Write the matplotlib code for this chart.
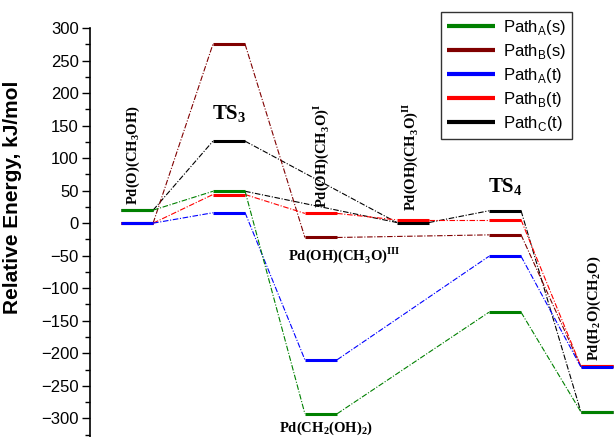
import matplotlib.pyplot as plt

plt.rcParams['mathtext.fontset'] = 'custom'
plt.rcParams['mathtext.rm'] = 'Liberation Sans'
plt.rcParams['mathtext.bf'] = 'Liberation Serif:bold'

# energies (kJ/mol) per state column; None = path has no level there
# columns: Pd(O)(CH3OH), TS3, I/III/Pd(CH2(OH)2), II, TS4, Pd(H2O)(CH2O)
path_A_s = [20, 49, -293, None, -137, -290]
path_B_s = [0, 275, -22, None, -18, -220]
path_A_t = [0, 16, -210, None, -51, -221]
path_B_t = [0, 44, 15, 5, 5, -220]
path_C_t = [20, 126, None, 1, 19, -290]

# extra connector seen in the figure (from col, energy, to col, energy)
extra_black = (1, 49, 3, 1)

paths = [
    ('Path$_\\mathrm{C}$(t)', path_C_t, 'black'),
    ('Path$_\\mathrm{B}$(s)', path_B_s, '#800000'),
    ('Path$_\\mathrm{B}$(t)', path_B_t, '#ff0000'),
    ('Path$_\\mathrm{A}$(t)', path_A_t, '#0000ff'),
    ('Path$_\\mathrm{A}$(s)', path_A_s, '#008000'),
]
legend_order = [1 - 1, 1, 2, 3, 4]
legend_names = ['Path$_\\mathrm{A}$(s)', 'Path$_\\mathrm{B}$(s)', 'Path$_\\mathrm{A}$(t)',
                'Path$_\\mathrm{B}$(t)', 'Path$_\\mathrm{C}$(t)']

hw = 0.175
dash = (0, (5, 1.5, 1, 1.5))

fig = plt.figure(figsize=(6.15, 4.37), dpi=100)
ax = fig.add_axes([90 / 615, 0, 525 / 615, 409 / 437])

handles = {}
for name, vals, col in paths:
    pts = [(i, v) for i, v in enumerate(vals) if v is not None]
    for (i0, v0), (i1, v1) in zip(pts[:-1], pts[1:]):
        ax.plot([i0 + hw, i1 - hw], [v0, v1], color=col, lw=0.8, ls=dash)
    for i, v in pts:
        h, = ax.plot([i - hw, i + hw], [v, v], color=col, lw=2.2, solid_capstyle='butt')
    handles[name] = h
    if col == 'black':
        i0, v0, i1, v1 = extra_black
        ax.plot([i0 + hw, i1 - hw], [v0, v1], color=col, lw=0.8, ls=dash)

ax.set_xlim(-0.511, 5.196)
ax.set_ylim(-328.7, 300)
ax.set_yticks(range(-300, 301, 50))
ax.set_yticks(range(-325, 300, 25), minor=True)
ax.tick_params(axis='y', which='major', length=6, width=1, labelsize=12, pad=2)
ax.tick_params(axis='y', which='minor', length=3.5, width=1)
for lab in ax.get_yticklabels():
    lab.set_family('Liberation Sans')
ax.set_xticks([])
for s in ['top', 'right', 'bottom']:
    ax.spines[s].set_visible(False)
ax.spines['left'].set_linewidth(1.2)

ax.set_ylabel('Relative Energy, kJ/mol', fontsize=15, fontweight='bold',
              family='Liberation Sans')
ax.yaxis.set_label_coords(-0.13, 0.587)

serif = dict(family='Liberation Serif', fontweight='bold', color='black')
ax.text(-0.04, 28, 'Pd(O)(CH$_\\mathbf{3}$OH)', rotation=90, ha='center', va='bottom',
        fontsize=10.5, **serif)
ax.text(1.0, 168, 'TS$_\\mathbf{3}$', ha='center', va='center', fontsize=15, **serif)
ax.text(2.0, 24, 'Pd(OH)(CH$_\\mathbf{3}$O)$^\\mathbf{I}$', rotation=90, ha='center',
        va='bottom', fontsize=10.5, **serif)
ax.text(2.97, 18, 'Pd(OH)(CH$_\\mathbf{3}$O)$^\\mathbf{II}$', rotation=90, ha='center',
        va='bottom', fontsize=10.5, **serif)
ax.text(4.0, 55, 'TS$_\\mathbf{4}$', ha='center', va='center', fontsize=15, **serif)
ax.text(2.25, -49, 'Pd(OH)(CH$_\\mathbf{3}$O)$^\\mathbf{III}$', ha='center', va='center',
        fontsize=10.5, **serif)
ax.text(2.05, -315, 'Pd(CH$_\\mathbf{2}$(OH)$_\\mathbf{2}$)', ha='center', va='center',
        fontsize=10.5, **serif)
ax.text(4.97, -212, 'Pd(H$_\\mathbf{2}$O)(CH$_\\mathbf{2}$O)', rotation=90, ha='center',
        va='bottom', fontsize=10.5, **serif)

leg = ax.legend([handles[n] for n in legend_names], legend_names,
                loc='upper left', bbox_to_anchor=(351 / 525, 1.038),
                prop={'family': 'Liberation Sans', 'size': 12},
                frameon=True, fancybox=False, edgecolor='black',
                handlelength=2.9, handletextpad=0.45, labelspacing=0.3,
                borderpad=0.35, borderaxespad=0)
leg.get_frame().set_linewidth(1)
for l in leg.get_lines():
    l.set_linewidth(3)

fig.savefig('out.png', dpi=100)
